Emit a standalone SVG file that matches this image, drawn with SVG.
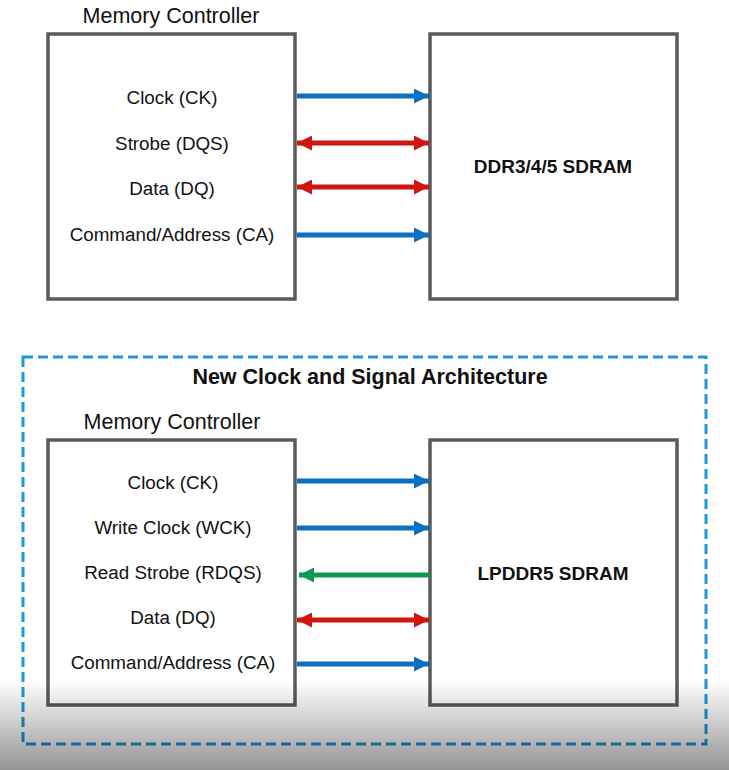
<svg xmlns="http://www.w3.org/2000/svg" width="729" height="770" viewBox="0 0 729 770">
<style>
.box{fill:#ffffff;stroke:#5a5a5a;stroke-width:3.5}
.lbl{font-family:"Liberation Sans",Arial,sans-serif;font-size:18.8px;fill:#111;text-anchor:middle}
.ttl{font-family:"Liberation Sans",Arial,sans-serif;font-size:21.5px;fill:#111;text-anchor:middle}
.bold{font-family:"Liberation Sans",Arial,sans-serif;font-size:19px;font-weight:bold;fill:#111;text-anchor:middle}
.blue{stroke:#0b6fc2;stroke-width:5;fill:none}
.red{stroke:#d0170f;stroke-width:5;fill:none}
.green{stroke:#0f9650;stroke-width:5;fill:none}
</style>
<defs>
<marker id="hb" viewBox="0 0 10 10" refX="10" refY="5" markerWidth="3" markerHeight="3" orient="auto" markerUnits="strokeWidth"><path d="M0,0 L10,5 L0,10 Z" fill="#0b6fc2"/></marker>
<marker id="hr" viewBox="0 0 10 10" refX="10" refY="5" markerWidth="3" markerHeight="3" orient="auto-start-reverse" markerUnits="strokeWidth"><path d="M0,0 L10,5 L0,10 Z" fill="#d0170f"/></marker>
<marker id="hg" viewBox="0 0 10 10" refX="10" refY="5" markerWidth="3" markerHeight="3" orient="auto" markerUnits="strokeWidth"><path d="M0,0 L10,5 L0,10 Z" fill="#0f9650"/></marker>
<linearGradient id="shade" x1="0" y1="0" x2="0" y2="1">
<stop offset="0" stop-color="#000" stop-opacity="0"/>
<stop offset="1" stop-color="#000" stop-opacity="0.42"/>
</linearGradient>
</defs>
<rect width="729" height="770" fill="#ffffff"/>

<g id="mc1">
<text class="ttl" x="171" y="23">Memory Controller</text>
<rect class="box" x="48" y="34" width="247" height="265"/>
<text class="lbl" x="172" y="104">Clock (CK)</text>
<text class="lbl" x="172" y="150">Strobe (DQS)</text>
<text class="lbl" x="172" y="195">Data (DQ)</text>
<text class="lbl" x="172" y="241">Command/Address (CA)</text>
</g>
<g id="ddr">
<rect class="box" x="430" y="34" width="247" height="265"/>
<text class="bold" x="553" y="173">DDR3/4/5 SDRAM</text>
</g>

<g id="newarch">
<rect x="23" y="357" width="683" height="387" fill="none" stroke="#1a9ad6" stroke-width="3" stroke-dasharray="10,5"/>
<text class="bold" x="370" y="384" style="font-size:21.5px">New Clock and Signal Architecture</text>
</g>
<g id="mc2">
<text class="ttl" x="172" y="429">Memory Controller</text>
<rect class="box" x="48" y="440" width="247" height="265"/>
<text class="lbl" x="173" y="489">Clock (CK)</text>
<text class="lbl" x="173" y="534">Write Clock (WCK)</text>
<text class="lbl" x="173" y="579">Read Strobe (RDQS)</text>
<text class="lbl" x="173" y="624">Data (DQ)</text>
<text class="lbl" x="173" y="669">Command/Address (CA)</text>
</g>
<g id="lpddr5">
<rect class="box" x="430" y="440" width="247" height="265"/>
<text class="bold" x="553" y="580">LPDDR5 SDRAM</text>
</g>

<g id="connectors">
<line class="blue" x1="297" y1="96" x2="429" y2="96" marker-end="url(#hb)"/>
<line class="red" x1="297" y1="143" x2="429" y2="143" marker-start="url(#hr)" marker-end="url(#hr)"/>
<line class="red" x1="297" y1="187" x2="429" y2="187" marker-start="url(#hr)" marker-end="url(#hr)"/>
<line class="blue" x1="297" y1="235" x2="429" y2="235" marker-end="url(#hb)"/>
<line class="blue" x1="297" y1="481" x2="429" y2="481" marker-end="url(#hb)"/>
<line class="blue" x1="297" y1="528" x2="429" y2="528" marker-end="url(#hb)"/>
<line class="green" x1="430" y1="575" x2="299" y2="575" marker-end="url(#hg)"/>
<line class="red" x1="297" y1="620" x2="429" y2="620" marker-start="url(#hr)" marker-end="url(#hr)"/>
<line class="blue" x1="297" y1="664" x2="429" y2="664" marker-end="url(#hb)"/>
</g>

<rect x="0" y="680" width="729" height="90" fill="url(#shade)"/>
</svg>
